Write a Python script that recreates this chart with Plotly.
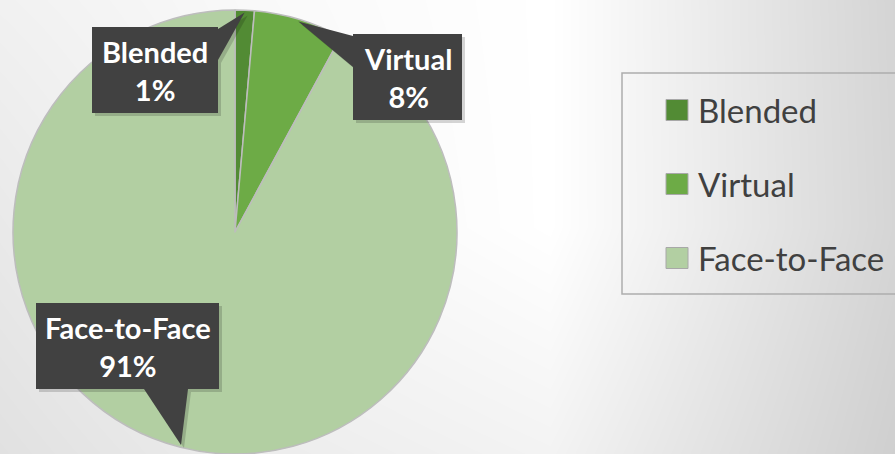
import math
import plotly.graph_objects as go

# ---- data ----
categories = ["Blended", "Virtual", "Face-to-Face"]
shares = [1.4, 6.5, 92.1]            # slice sizes
label_pcts = ["1%", "8%", "91%"]     # data-label text as printed
colors = ["#528B34", "#6DAB46", "#B2CFA2"]

# background shading control grid (grey levels)
bg_x = [-1, 250, 550, 896]
bg_y = [-1, 227, 455]
bg_z = [[241, 249, 255, 212],
        [233, 246, 255, 213],
        [225, 236, 243, 207]]

W, H = 895, 454
cx, cy, R = 235, 232, 222  # pie geometry in pixels

fig = go.Figure()

fig.add_trace(go.Heatmap(
    x=bg_x, y=bg_y, z=bg_z, zsmooth="best",
    colorscale=[[0, "rgb(200,200,200)"], [1, "rgb(255,255,255)"]],
    zmin=200, zmax=255, showscale=False, hoverinfo="skip",
))

fig.add_trace(go.Pie(
    labels=categories, values=shares, sort=False, direction="clockwise",
    rotation=0, textinfo="none", hoverinfo="label+percent",
    marker=dict(colors=colors, line=dict(color="#BDBDBD", width=1.5)),
    showlegend=False,
    domain=dict(x=[(cx - R) / W, (cx + R) / W], y=[1 - (cy + R) / H, 1 - (cy - R) / H]),
))

# ---- callouts ----
boxes = [(92, 27, 218, 113), (353, 34, 462, 120), (36, 303, 219, 389)]
tail_bases = [((218, 29), (218, 60)), ((353, 36), (353, 67)), ((144, 389), (188, 389))]

total = sum(shares)
cum = 0
shapes = []
annotations = []
for i, (name, v) in enumerate(zip(categories, shares)):
    mid = (cum + v / 2) / total * 2 * math.pi
    cum += v
    tx = cx + R * 0.99 * math.sin(mid)
    ty = cy - R * 0.99 * math.cos(mid)
    x0, y0, x1, y1 = boxes[i]
    (ax_, ay_), (bx_, by_) = tail_bases[i]
    off = 3
    fill = "rgba(0,0,0,0.16)"
    shapes.append(dict(type="rect", xref="x", yref="y", x0=x0 + off, y0=y0 + off,
                       x1=x1 + off, y1=y1 + off, fillcolor=fill, line=dict(width=0),
                       layer="above"))
    shapes.append(dict(type="path", xref="x", yref="y",
                       path=f"M{ax_+off},{ay_+off} L{tx+off},{ty+off} L{bx_+off},{by_+off} Z",
                       fillcolor=fill, line=dict(width=0), layer="above"))
    shapes.append(dict(type="rect", xref="x", yref="y", x0=x0, y0=y0, x1=x1, y1=y1,
                       fillcolor="#414141", line=dict(width=0), layer="above"))
    shapes.append(dict(type="path", xref="x", yref="y",
                       path=f"M{ax_},{ay_} L{tx},{ty} L{bx_},{by_} Z",
                       fillcolor="#414141", line=dict(width=0), layer="above"))
    annotations.append(dict(
        x=(x0 + x1) / 2, y=(y0 + y1) / 2, xref="x", yref="y", showarrow=False,
        text=f"<b>{name}</b><br><b>{label_pcts[i]}</b>", align="center",
        font=dict(family="Lato", size=29, color="#FFFFFF"),
        xanchor="center", yanchor="middle",
    ))

# ---- legend ----
leg_x0, leg_y0, leg_x1, leg_y1 = 622, 73, 910, 294
shapes.append(dict(type="rect", xref="x", yref="y", x0=leg_x0, y0=leg_y0, x1=leg_x1, y1=leg_y1,
                   fillcolor="rgba(0,0,0,0)", line=dict(color="#ADADAD", width=1.5), layer="above"))
leg_centers = [110, 184, 258]
for name, col, yc in zip(categories, colors, leg_centers):
    shapes.append(dict(type="rect", xref="x", yref="y", x0=666, y0=yc - 10.5, x1=688, y1=yc + 10.5,
                       fillcolor=col, line=dict(color="#A8A8A8", width=1), layer="above"))
    annotations.append(dict(x=696, y=yc, xref="x", yref="y", showarrow=False, text=name,
                            xanchor="left", yanchor="middle",
                            font=dict(family="Lato", size=33, color="#404040")))

fig.update_layout(
    width=W, height=H, margin=dict(l=0, r=0, t=0, b=0),
    paper_bgcolor="#FFFFFF", plot_bgcolor="#FFFFFF",
    xaxis=dict(range=[0, W], visible=False, fixedrange=True),
    yaxis=dict(range=[H, 0], visible=False, fixedrange=True),
    shapes=shapes, annotations=annotations, showlegend=False,
)

fig.write_html(
    "out.html",
    config={"displayModeBar": False},
    post_script="document.body.style.margin='0';document.body.style.overflow='hidden';",
)
